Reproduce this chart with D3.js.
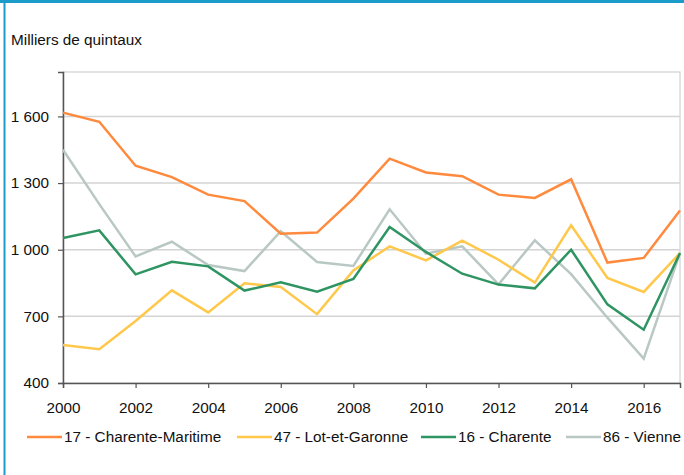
<!DOCTYPE html>
<html><head><meta charset="utf-8">
<script src="https://cdn.jsdelivr.net/npm/d3@7"></script>
<style>
html,body{margin:0;padding:0;background:#fff;}
svg{display:block;font-family:"Liberation Sans",Arial,sans-serif;}
</style></head>
<body><svg id="c" width="684" height="475"></svg>
<script>
const years = [2000,2001,2002,2003,2004,2005,2006,2007,2008,2009,2010,2011,2012,2013,2014,2015,2016,2017];
const charenteMaritime = [1617,1576,1378,1327,1248,1219,1072,1077,1230,1410,1348,1331,1248,1233,1317,942,963,1177];
const lotEtGaronne = [571,552,679,817,718,849,832,710,907,1015,952,1041,955,852,1110,873,810,985];
const charente = [1053,1087,889,946,925,816,853,811,868,1102,990,892,843,826,1000,754,640,985];
const vienne = [1450,1205,970,1036,931,904,1083,945,927,1182,982,1015,844,1042,890,694,510,985];
const seriesNames = ["17 - Charente-Maritime","47 - Lot-et-Garonne","16 - Charente","86 - Vienne"];
const seriesColors = ["#ff8a3d","#ffc84b","#2e9462","#b9c8c4"];
const yTicks = [400,700,1000,1300,1600];
const xTicks = [2000,2002,2004,2006,2008,2010,2012,2014,2016];
const yLabel = "Milliers de quintaux";

const FS = 15.3;
const svg = d3.select("#c");
const L = 63, R = 680, T = 72, B = 383;
const x = d3.scaleLinear().domain([2000,2017]).range([L,R]);
const y = d3.scaleLinear().domain([400,1800]).range([B,T]);
const fmt = d3.formatLocale({decimal:",",thousands:" ",grouping:[3],currency:["","€"]}).format(",d");

// blue frame
svg.append("line").attr("x1",0).attr("x2",684).attr("y1",1.5).attr("y2",1.5).attr("stroke","#1a9bca").attr("stroke-width",3);
svg.append("line").attr("x1",4.5).attr("x2",4.5).attr("y1",0).attr("y2",475).attr("stroke","#1a9bca").attr("stroke-width",2);

// plot frame
svg.append("rect").attr("x",L).attr("y",T).attr("width",R-L).attr("height",B-T).attr("fill","none").attr("stroke","#c8c8c8").attr("stroke-width",1);

// gridlines
svg.append("g").selectAll("line").data(yTicks.slice(1)).join("line")
  .attr("x1",L).attr("x2",R).attr("y1",d=>y(d)).attr("y2",d=>y(d))
  .attr("stroke","#d4d4d4").attr("stroke-width",1.5);

// y axis
const ya = svg.append("g").attr("transform",`translate(${L},0)`)
  .call(d3.axisLeft(y).tickValues(yTicks).tickFormat(fmt).tickSize(5).tickPadding(9));
ya.select(".domain").attr("stroke","#555").attr("stroke-width",1.5);
ya.selectAll(".tick line").attr("stroke","#555").attr("stroke-width",1.2);
ya.selectAll("text").attr("font-size",FS).attr("fill","#111").attr("font-family","Liberation Sans, Arial, sans-serif");

// x axis
const xa = svg.append("g").attr("transform",`translate(0,${B})`)
  .call(d3.axisBottom(x).tickValues(xTicks).tickFormat(d3.format("d")).tickSize(5).tickPadding(14));
xa.select(".domain").attr("stroke","#555").attr("stroke-width",1.5);
xa.selectAll(".tick line").attr("stroke","#555").attr("stroke-width",1.2);
xa.selectAll("text").attr("font-size",FS).attr("fill","#111").attr("font-family","Liberation Sans, Arial, sans-serif");

// y label
svg.append("text").attr("x",11).attr("y",45).attr("font-size",FS).attr("fill","#111").text(yLabel);

// lines
const data = [charenteMaritime, lotEtGaronne, charente, vienne];
const line = d3.line().x((d,i)=>x(years[i])).y(d=>y(d));
const drawOrder = [3,1,2,0];
svg.append("g").selectAll("path").data(drawOrder).join("path")
  .attr("d",k=>line(data[k])).attr("fill","none")
  .attr("stroke",k=>seriesColors[k]).attr("stroke-width",2.5).attr("stroke-linejoin","miter");

// legend
const legX = [27,237,421,566];
const lg = svg.append("g").selectAll("g").data(seriesNames).join("g")
  .attr("transform",(d,i)=>`translate(${legX[i]},437)`);
lg.append("line").attr("x1",0).attr("x2",35).attr("y1",0).attr("y2",0)
  .attr("stroke",(d,i)=>seriesColors[i]).attr("stroke-width",2.5);
lg.append("text").attr("x",37).attr("y",5).attr("font-size",FS).attr("fill","#111").text(d=>d);
</script></body></html>
